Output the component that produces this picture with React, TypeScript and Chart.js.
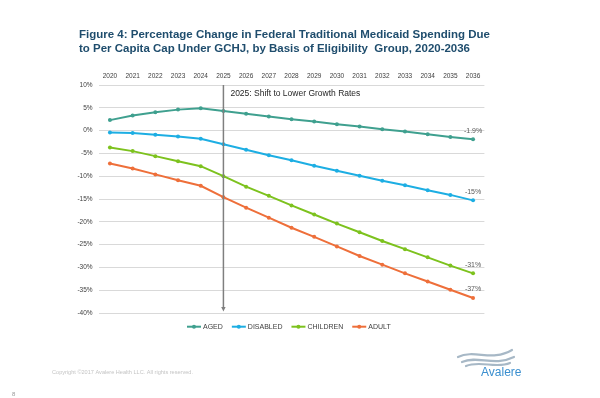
import { useEffect, useRef } from "react";
import { Chart, registerables } from "chart.js";

Chart.register(...registerables);

const years = ["2020","2021","2022","2023","2024","2025","2026","2027","2028","2029","2030","2031","2032","2033","2034","2035","2036"];
const aged = [2.3, 3.3, 4.0, 4.6, 4.9, 4.3, 3.7, 3.1, 2.5, 2.0, 1.4, 0.9, 0.3, -0.2, -0.8, -1.4, -1.9];
const disabled = [-0.4, -0.5, -0.9, -1.3, -1.8, -3.0, -4.2, -5.4, -6.5, -7.7, -8.8, -9.9, -11.0, -12.0, -13.1, -14.1, -15.3];
const children = [-3.7, -4.5, -5.6, -6.7, -7.8, -10.0, -12.3, -14.3, -16.4, -18.4, -20.4, -22.3, -24.2, -26.0, -27.8, -29.6, -31.3];
const adult = [-7.2, -8.3, -9.6, -10.9, -12.1, -14.6, -16.9, -19.1, -21.3, -23.3, -25.4, -27.5, -29.4, -31.3, -33.1, -34.9, -36.7];
const seriesNames = ["AGED", "DISABLED", "CHILDREN", "ADULT"];
const endLabels = ["-1.9%", "-15%", "-31%", "-37%"];
const yTicks = [10, 5, 0, -5, -10, -15, -20, -25, -30, -35, -40];
const titleLines = [
  "Figure 4: Percentage Change in Federal Traditional Medicaid Spending Due",
  "to Per Capita Cap Under GCHJ, by Basis of Eligibility  Group, 2020-2036",
];
const annotationText = "2025: Shift to Lower Growth Rates";
const shiftYear = "2025";
const copyrightText = "Copyright ©2017 Avalere Health LLC. All rights reserved.";

const colors = ["#3fa08f", "#1daee3", "#7dc21e", "#ee6f3a"];
const FONT = "'Liberation Sans', Arial, Helvetica, sans-serif";

const overlay = {
  id: "overlay",
  afterDraw(chart: any) {
    const ctx = chart.ctx as CanvasRenderingContext2D;
    const area = chart.chartArea;
    const xs = chart.scales.x;
    ctx.save();

    // Title
    ctx.fillStyle = "#1f4d6d";
    ctx.font = `bold 11.5px ${FONT}`;
    ctx.textAlign = "left";
    ctx.textBaseline = "alphabetic";
    ctx.fillText(titleLines[0], 79, 37.5, 413);
    ctx.fillText(titleLines[1], 79, 51.5, 391);

    // vertical shift line with arrow
    const vx = xs.getPixelForValue(years.indexOf(shiftYear));
    ctx.strokeStyle = "#7f7f7f";
    ctx.fillStyle = "#7f7f7f";
    ctx.lineWidth = 1.5;
    ctx.beginPath();
    ctx.moveTo(vx, area.top);
    ctx.lineTo(vx, area.bottom - 4);
    ctx.stroke();
    ctx.beginPath();
    ctx.moveTo(vx - 2.2, area.bottom - 6);
    ctx.lineTo(vx + 2.2, area.bottom - 6);
    ctx.lineTo(vx, area.bottom - 1.5);
    ctx.closePath();
    ctx.fill();

    // annotation text
    ctx.fillStyle = "#262626";
    ctx.font = `8.5px ${FONT}`;
    ctx.textBaseline = "middle";
    ctx.fillText(annotationText, vx + 7, area.top + 9);

    // end labels
    ctx.font = `7px ${FONT}`;
    ctx.fillStyle = "#595959";
    ctx.textAlign = "center";
    chart.data.datasets.forEach((_: any, i: number) => {
      const meta = chart.getDatasetMeta(i);
      const pt = meta.data[meta.data.length - 1];
      ctx.fillText(endLabels[i], pt.x, pt.y - 8.5);
    });

    // legend
    let lx = 187;
    const ly = 326.7;
    ctx.font = `7px ${FONT}`;
    ctx.textAlign = "left";
    seriesNames.forEach((name, i) => {
      ctx.strokeStyle = colors[i];
      ctx.fillStyle = colors[i];
      ctx.lineWidth = 2;
      ctx.beginPath();
      ctx.moveTo(lx, ly);
      ctx.lineTo(lx + 14, ly);
      ctx.stroke();
      ctx.beginPath();
      ctx.arc(lx + 7, ly, 2, 0, Math.PI * 2);
      ctx.fill();
      ctx.fillStyle = "#404040";
      ctx.fillText(name, lx + 16, ly);
      lx += 16 + ctx.measureText(name).width + 9;
    });

    // copyright
    ctx.fillStyle = "#c4c4c4";
    ctx.font = `5.6px ${FONT}`;
    ctx.fillText(copyrightText, 52, 372, 141);

    // page number
    ctx.fillStyle = "#9a9a9a";
    ctx.font = `6px ${FONT}`;
    ctx.fillText("8", 12, 394);

    // Avalere logo waves
    ctx.strokeStyle = "#a7b8c6";
    ctx.lineWidth = 2.2;
    ctx.lineCap = "round";
    const waves = [
      [458, 357, 475, 349, 492, 362, 512, 350],
      [462, 362, 478, 355, 494, 367, 514, 357],
      [466, 366, 480, 360, 496, 369, 510, 363],
    ];
    waves.forEach((w) => {
      ctx.beginPath();
      ctx.moveTo(w[0], w[1]);
      ctx.bezierCurveTo(w[2], w[3], w[4], w[5], w[6], w[7]);
      ctx.stroke();
    });
    ctx.fillStyle = "#3b8fcf";
    ctx.font = `12px ${FONT}`;
    ctx.textBaseline = "middle";
    ctx.fillText("Avalere", 481, 373);

    ctx.restore();
  },
};

export default function App() {
  const ref = useRef<HTMLCanvasElement | null>(null);
  useEffect(() => {
    if (!ref.current) return;
    const data = [aged, disabled, children, adult];
    const chart = new Chart(ref.current, {
      type: "line",
      data: {
        labels: years,
        datasets: data.map((d, i) => ({
          label: seriesNames[i],
          data: d,
          borderColor: colors[i],
          backgroundColor: colors[i],
          borderWidth: 2,
          pointRadius: 2,
          pointBorderWidth: 0,
          pointBackgroundColor: colors[i],
          tension: 0,
        })),
      },
      options: {
        responsive: false,
        animation: false,
        layout: { padding: { left: 60, right: 115.6, top: 65, bottom: 85 } },
        plugins: {
          legend: { display: false },
          title: { display: false },
          tooltip: { enabled: false },
        },
        scales: {
          x: {
            type: "category",
            position: "top",
            offset: true,
            grid: { display: false, drawTicks: false },
            border: { display: false },
            ticks: {
              color: "#404040",
              font: { size: 6.5, family: FONT },
              padding: 4.5,
              maxRotation: 0,
              autoSkip: false,
            },
            afterFit: (s: any) => { s.height = 20; },
          },
          y: {
            min: -40,
            max: 10,
            afterBuildTicks: (s: any) => { s.ticks = yTicks.map((v) => ({ value: v })); },
            grid: { color: "#d9d9d9", lineWidth: 1, drawTicks: false },
            border: { display: false },
            ticks: {
              color: "#404040",
              font: { size: 6.5, family: FONT },
              padding: 6,
              callback: (v: any) => `${v}%`,
            },
            afterFit: (s: any) => { s.width = 38.6; },
          },
        },
      },
      plugins: [overlay],
    });
    return () => chart.destroy();
  }, []);
  return (
    <div style={{ position: "fixed", left: 0, top: 0, width: 600, height: 398, background: "#fff" }}>
      <canvas ref={ref} width={600} height={398} style={{ width: 600, height: 398, display: "block" }} />
    </div>
  );
}
